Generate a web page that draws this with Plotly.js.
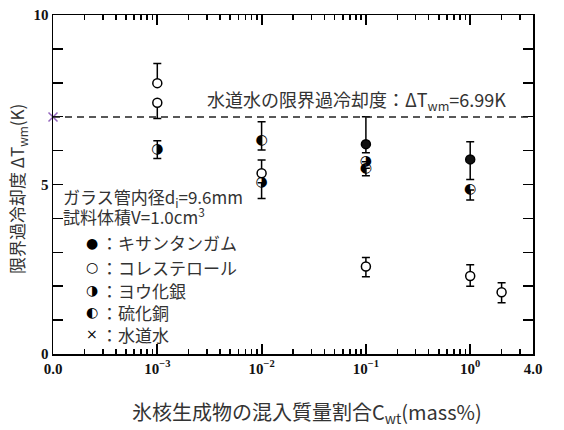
<!DOCTYPE html>
<html>
<head>
<meta charset="utf-8">
<script src="https://cdn.plot.ly/plotly-3.0.1.min.js"></script>
<style>
  html, body { margin: 0; padding: 0; background: #fff; }
  #chart { width: 564px; height: 430px; }
</style>
</head>
<body>
<div id="chart"></div>
<script>
// critical supercooling vs. mass fraction of ice nucleator (mass%)
const tapWaterX = [1e-4];          // drawn at the "0.0" position
const tapWaterY = [6.99];

const xanthanX = [1e-1, 1e0];
const xanthanY = [6.19, 5.74];
const xanthanUp = [0.81, 0.52];
const xanthanDown = [0.25, 0.59];

const cholX = [1e-3, 1e-3, 1e-2, 1e-1, 1e0, 2.0];
const cholY = [7.99, 7.41, 5.33, 2.58, 2.30, 1.82];
const cholUp = [0.58, 0, 0.39, 0.27, 0.33, 0.28];
const cholDown = [0, 0.46, 0, 0.30, 0.30, 0.31];

const agiX = [1e-3, 1e-2, 1e-1];
const agiY = [6.02, 5.05, 5.67];
const agiUp = [0.27, 0, 0];
const agiDown = [0.25, 0.46, 0];

const cusX = [1e-2, 1e-1, 1e0];
const cusY = [6.31, 5.48, 4.84];
const cusUp = [0.54, 0, 0];
const cusDown = [0.29, 0.22, 0.30];

const xTickVals = [1e-4, 1e-3, 1e-2, 1e-1, 1, 4];
const xTickText = ['0.0', '10<sup>\u22123</sup>', '10<sup>\u22122</sup>', '10<sup>\u22121</sup>', '10<sup>0</sup>', '4.0'];
const yTickVals = [0, 1, 2, 3, 4, 5, 6, 7, 8, 9, 10];
const yTickText = ['0', '', '', '', '', '5', '', '', '', '', '10'];

const legendSyms = ['\u25CF', '\u25CB', '\u25D1', '\u25D0', '\u00D7'];
const legendNames = ['キサンタンガム', 'コレステロール', 'ヨウ化銀', '硫化銅', '水道水'];

// minor log ticks 2..9 in each decade
let minorVals = [];
for (let d = -4; d <= 0; d++) {
  for (let k = 2; k <= 9; k++) {
    let v = k * Math.pow(10, d);
    if (v < 4) minorVals.push(v);
  }
}

// margins, used to place the notes in pixel terms
const L = 53, R = 31, T = 15, B = 76, W = 564, H = 430;
function px(x) { return (x - L) / (W - L - R); }
function py(y) { return (H - B - y) / (H - T - B); }

const ebar = (up, down) => ({
  type: 'data', symmetric: false, array: up, arrayminus: down,
  color: 'black', thickness: 1.5, width: 4
});

const glyphFont = {family: 'DejaVu Sans', size: 14, color: 'black'};

const data = [
  {
    x: xanthanX, y: xanthanY, type: 'scatter', mode: 'markers',
    marker: {symbol: 'circle', size: 9, color: '#111', line: {color: 'black', width: 1.5}},
    error_y: ebar(xanthanUp, xanthanDown)
  },
  {
    x: cholX, y: cholY, type: 'scatter', mode: 'markers',
    marker: {symbol: 'circle', size: 9, color: 'white', line: {color: 'black', width: 1.5}},
    error_y: ebar(cholUp, cholDown)
  },
  {
    x: agiX, y: agiY, type: 'scatter', mode: 'text',
    text: agiX.map(() => legendSyms[2]), textposition: 'middle center',
    textfont: glyphFont,
    error_y: ebar(agiUp, agiDown)
  },
  {
    x: cusX, y: cusY, type: 'scatter', mode: 'text',
    text: cusX.map(() => legendSyms[3]), textposition: 'middle center',
    textfont: glyphFont,
    error_y: ebar(cusUp, cusDown)
  },
  {
    x: tapWaterX, y: tapWaterY, type: 'scatter', mode: 'markers',
    marker: {symbol: 'x-thin-open', size: 9, line: {color: 'black', width: 1.5}},
    cliponaxis: false
  },
  // empty trace that carries the minor-tick overlay axis
  {x: [], y: [], xaxis: 'x2', yaxis: 'y', type: 'scatter', mode: 'markers', hoverinfo: 'skip'}
];

const noteFont = {family: 'Noto Sans CJK JP, DejaVu Sans', size: 17, color: '#333'};

let annotations = [
  {xref: 'paper', yref: 'paper', x: px(205), y: py(100), xanchor: 'left', yanchor: 'middle',
   text: '水道水の限界過冷却度：ΔT<sub>wm</sub>=6.99K', showarrow: false,
   font: {family: 'Noto Sans CJK JP', size: 18, color: '#333'}},
  {xref: 'paper', yref: 'paper', x: px(61), y: py(197), xanchor: 'left', yanchor: 'middle',
   text: 'ガラス管内径d<sub>i</sub>=9.6mm', showarrow: false, font: noteFont},
  {xref: 'paper', yref: 'paper', x: px(61), y: py(216), xanchor: 'left', yanchor: 'middle',
   text: '試料体積V=1.0cm<sup>3</sup>', showarrow: false, font: noteFont},
  // axis titles
  {xref: 'paper', yref: 'paper', x: px(307), y: py(412), xanchor: 'center', yanchor: 'middle',
   text: '氷核生成物の混入質量割合C<sub>wt</sub>(mass%)', showarrow: false,
   font: {family: 'Noto Sans CJK JP', size: 20, color: '#333'}},
  {xref: 'paper', yref: 'paper', x: px(17), y: py(189), xanchor: 'center', yanchor: 'middle',
   text: '限界過冷却度 ΔT<sub>wm</sub>(K)', textangle: -90, showarrow: false,
   font: {family: 'Noto Sans CJK JP', size: 17, color: '#333'}}
];
const legendY = [243, 267, 290, 312, 334];
legendNames.forEach((name, i) => {
  annotations.push({xref: 'paper', yref: 'paper', x: px(92), y: py(legendY[i]),
    xanchor: 'center', yanchor: 'middle', text: legendSyms[i], showarrow: false,
    font: {family: 'DejaVu Sans', size: 14, color: 'black'}});
  annotations.push({xref: 'paper', yref: 'paper', x: px(99), y: py(legendY[i]),
    xanchor: 'left', yanchor: 'middle', text: '：' + name, showarrow: false, font: noteFont});
});

const tickFont = {family: 'Liberation Serif', size: 15, color: '#111', weight: 'bold'};

const layout = {
  width: W, height: H,
  margin: {l: L, r: R, t: T, b: B},
  paper_bgcolor: 'white', plot_bgcolor: 'white',
  showlegend: false,
  xaxis: {
    type: 'log', range: [-4, Math.log10(4)],
    tickmode: 'array', tickvals: xTickVals, ticktext: xTickText,
    ticks: 'inside', ticklen: 10, tickwidth: 1.8, tickcolor: 'black',
    showline: true, linecolor: 'black', linewidth: 1.5, mirror: 'ticks',
    showgrid: false, zeroline: false,
    tickfont: tickFont
  },
  xaxis2: {
    type: 'log', range: [-4, Math.log10(4)], overlaying: 'x', side: 'bottom',
    tickmode: 'array', tickvals: minorVals, showticklabels: false,
    ticks: 'inside', ticklen: 5, tickwidth: 1.5, tickcolor: 'black',
    showline: false, mirror: 'ticks', showgrid: false, zeroline: false
  },
  yaxis: {
    range: [0, 10],
    tickmode: 'array', tickvals: yTickVals, ticktext: yTickText,
    ticks: 'inside', ticklen: 10, tickwidth: 1.5, tickcolor: 'black',
    showline: true, linecolor: 'black', linewidth: 1.5, mirror: 'ticks',
    showgrid: false, zeroline: false,
    tickfont: tickFont
  },
  shapes: [{
    type: 'line', xref: 'paper', x0: 0, x1: 1, yref: 'y', y0: tapWaterY[0], y1: tapWaterY[0],
    line: {color: '#222', width: 1.5, dash: '7px,5px'}
  }],
  annotations: annotations
};

Plotly.newPlot('chart', data, layout, {displayModeBar: false, staticPlot: true});
</script>
</body>
</html>
